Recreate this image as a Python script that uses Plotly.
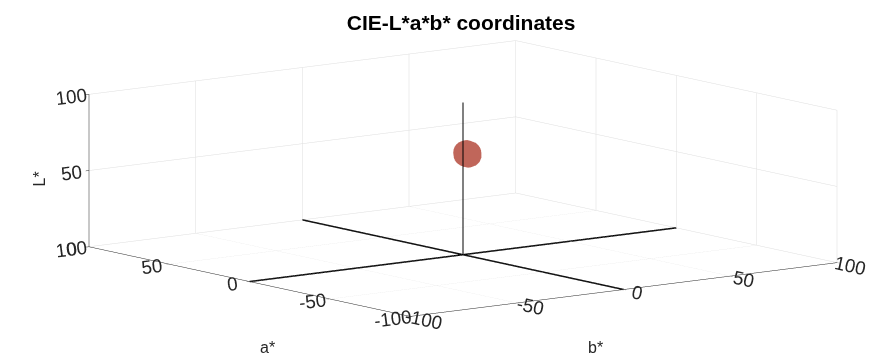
import plotly.graph_objects as go

# Data
title_text = "CIE-L*a*b* coordinates"
tick_vals = [-100, -50, 0, 50, 100]
tick_text = ["-100", "-50", "0", "50", "100"]
L_ticks = [0, 50, 100]
L_tick_text = ["0", "50", "100"]
a_title, b_title, L_title = "a*", "b*", "L*"

# colour cluster (L*, a*, b*)
cluster_L = [56, 57, 55, 56.5, 55.5, 57, 55]
cluster_a = [28, 28, 28, 27.5, 28.5, 28.5, 27.5]
cluster_b = [23, 22, 24, 23.5, 22.5, 23, 23]

# reference axis lines through the origin
a_line_a = [-100, 100]
a_line_b = [0, 0]
a_line_L = [0, 0]
b_line_a = [0, 0]
b_line_b = [-100, 100]
b_line_L = [0, 0]
L_line_a = [0, 0]
L_line_b = [0, 0]
L_line_L = [0, 100]

fig = go.Figure()
line_style = dict(color="black", width=3)
fig.add_trace(go.Scatter3d(x=a_line_b, y=a_line_a, z=a_line_L, mode="lines", line=line_style, showlegend=False, hoverinfo="skip"))
fig.add_trace(go.Scatter3d(x=b_line_b, y=b_line_a, z=b_line_L, mode="lines", line=line_style, showlegend=False, hoverinfo="skip"))
fig.add_trace(go.Scatter3d(x=L_line_b, y=L_line_a, z=L_line_L, mode="lines", line=dict(color="black", width=2), showlegend=False, hoverinfo="skip"))
fig.add_trace(go.Scatter3d(x=cluster_b, y=cluster_a, z=cluster_L, mode="markers",
                           marker=dict(size=14, color="rgb(192,102,90)", opacity=1, line=dict(width=0)),
                           showlegend=False, hoverinfo="skip"))

font_fam = "Liberation Sans, Arial, sans-serif"
txt_col = "rgb(38,38,38)"
axis_common = dict(
    showbackground=False,
    gridcolor="rgb(222,222,222)",
    gridwidth=1,
    showline=True,
    linecolor=txt_col,
    linewidth=1,
    zeroline=False,
    ticks="inside",
    ticklen=4,
    tickcolor=txt_col,
    tickfont=dict(family=font_fam, size=15, color=txt_col),
    showspikes=False,
    title=dict(text=""),
)

d = 6
s = 3.147
fig.update_layout(
    width=885, height=363,
    paper_bgcolor="white",
    margin=dict(l=0, r=0, t=0, b=0),
    title=dict(text="<b>" + title_text + "</b>", x=0.512, xanchor="center", y=0.96, yanchor="middle",
               xref="paper", yref="container",
               font=dict(family=font_fam, size=21, color="black")),
    scene=dict(
        domain=dict(x=[0.036, 0.992], y=[0.060, 1.0]),
        xaxis=dict(axis_common, range=[-100, 100], tickvals=tick_vals, ticktext=tick_text),
        yaxis=dict(axis_common, range=[-100, 100], tickvals=tick_vals, ticktext=tick_text),
        zaxis=dict(axis_common, range=[0, 100], tickvals=L_ticks, ticktext=L_tick_text),
        aspectmode="manual",
        aspectratio=dict(x=1.0 * s, y=0.988 * s, z=0.288 * s),
        camera=dict(
            projection=dict(type="orthographic"),
            eye=dict(x=-0.5977 * d, y=-0.7844 * d, z=0.1652 * d),
            center=dict(x=0, y=0, z=0),
            up=dict(x=0, y=0, z=1),
        ),
    ),
    annotations=[
        dict(text=a_title, x=250 / 885, y=1 - 350 / 363, xref="paper", yref="paper",
             showarrow=False, font=dict(family=font_fam, size=16, color=txt_col)),
        dict(text=b_title, x=597 / 885, y=1 - 350 / 363, xref="paper", yref="paper",
             showarrow=False, font=dict(family=font_fam, size=16, color=txt_col)),
        dict(text=L_title, x=20 / 885, y=1 - 171 / 363, xref="paper", yref="paper", textangle=-90,
             showarrow=False, font=dict(family=font_fam, size=16, color=txt_col)),
    ],
)

fig.write_html("out.html")
